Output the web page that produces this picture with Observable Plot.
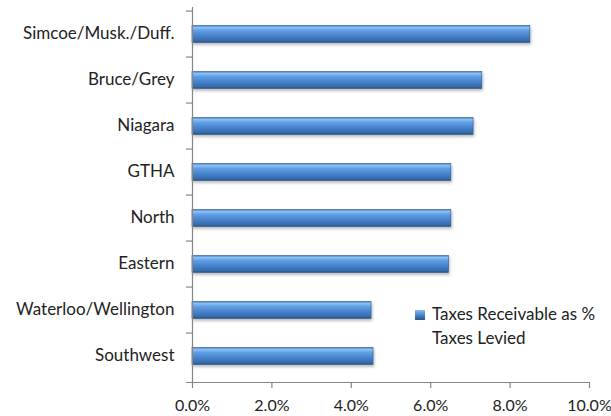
<!DOCTYPE html>
<html>
<head>
<meta charset="utf-8">
<script src="https://cdn.jsdelivr.net/npm/d3@7"></script>
<script src="https://cdn.jsdelivr.net/npm/@observablehq/plot@0.6"></script>
<style>
  html, body { margin: 0; padding: 0; background: #fff; }
  #wrap { position: relative; width: 611px; height: 416px; font-family: Lato, "Open Sans", sans-serif; }
  .bars rect { filter: drop-shadow(1px 2px 1.5px rgba(0,0,0,0.28)); }
  #legend { position: absolute; left: 415px; top: 302px; font-size: 17px; color: #222; line-height: 24px; }
  #legend .sw { position: absolute; left: 0; top: 8px; width: 10px; height: 10px;
    background: linear-gradient(#8bbdf4, #4a84cc 50%, #2b5386); }
  #legend .tx { margin-left: 17px; white-space: nowrap; }
</style>
</head>
<body>
<div id="wrap"></div>
<script>
const regions = ["Simcoe/Musk./Duff.", "Bruce/Grey", "Niagara", "GTHA", "North", "Eastern", "Waterloo/Wellington", "Southwest"];
const values = [8.51, 7.30, 7.08, 6.52, 6.52, 6.46, 4.51, 4.56];
const xTicks = [0, 2, 4, 6, 8, 10];
const seriesName = "Taxes Receivable as % Taxes Levied";

const data = regions.map((r, i) => ({region: r, value: values[i]}));

const W = 611, H = 416;
const mTop = 7, mBottom = 34, mLeft = 192, mRight = 22;
const step = (H - mTop - mBottom) / regions.length;
const axisColor = "#868686";

const plot = Plot.plot({
  width: W,
  height: H,
  marginTop: mTop,
  marginBottom: mBottom,
  marginLeft: mLeft,
  marginRight: mRight,
  style: {fontFamily: "Lato, 'Open Sans', sans-serif", fontSize: "17px", color: "#222", background: "white"},
  x: {domain: [0, 10], ticks: xTicks},
  y: {domain: regions, padding: 0},
  marks: [
    Plot.barX(data, {
      y: "region", x: "value",
      insetTop: 14.5, insetBottom: 14.5,
      fill: "url(#barGrad)",
      stroke: "#2d5a93", strokeWidth: 0.6,
      className: "bars"
    }),
    Plot.ruleX([0], {stroke: axisColor, strokeWidth: 1.2}),
    Plot.frame({anchor: "bottom", stroke: axisColor, strokeWidth: 1.2, insetLeft: -6}),
    Plot.axisY({tickSize: 6, tickFormat: () => "", dy: -step / 2, label: null, stroke: axisColor, strokeWidth: 1.2}),
    Plot.axisY({tickSize: 0, tickPadding: 18, label: null, fill: "#222", dy: -1}),
    Plot.axisX({ticks: xTicks, tickSize: 6, tickPadding: 11, fontSize: 16, tickFormat: d => d.toFixed(1) + "%", label: null, stroke: axisColor, strokeWidth: 1.2, fill: "#222"})
  ]
});

const svgNS = "http://www.w3.org/2000/svg";
const defs = document.createElementNS(svgNS, "defs");
defs.innerHTML = `
  <linearGradient id="barGrad" x1="0" y1="0" x2="0" y2="1">
    <stop offset="0" stop-color="#4a80c4"/>
    <stop offset="0.12" stop-color="#8cc0f5"/>
    <stop offset="0.3" stop-color="#5f9de4"/>
    <stop offset="0.6" stop-color="#4683cc"/>
    <stop offset="0.88" stop-color="#376cad"/>
    <stop offset="1" stop-color="#284f84"/>
  </linearGradient>`;
plot.insertBefore(defs, plot.firstChild);

const wrap = document.getElementById("wrap");
wrap.appendChild(plot);

const legend = document.createElement("div");
legend.id = "legend";
legend.innerHTML = `<div class="sw"></div><div class="tx">Taxes Receivable as %</div><div class="tx">Taxes Levied</div>`;
wrap.appendChild(legend);
</script>
</body>
</html>
